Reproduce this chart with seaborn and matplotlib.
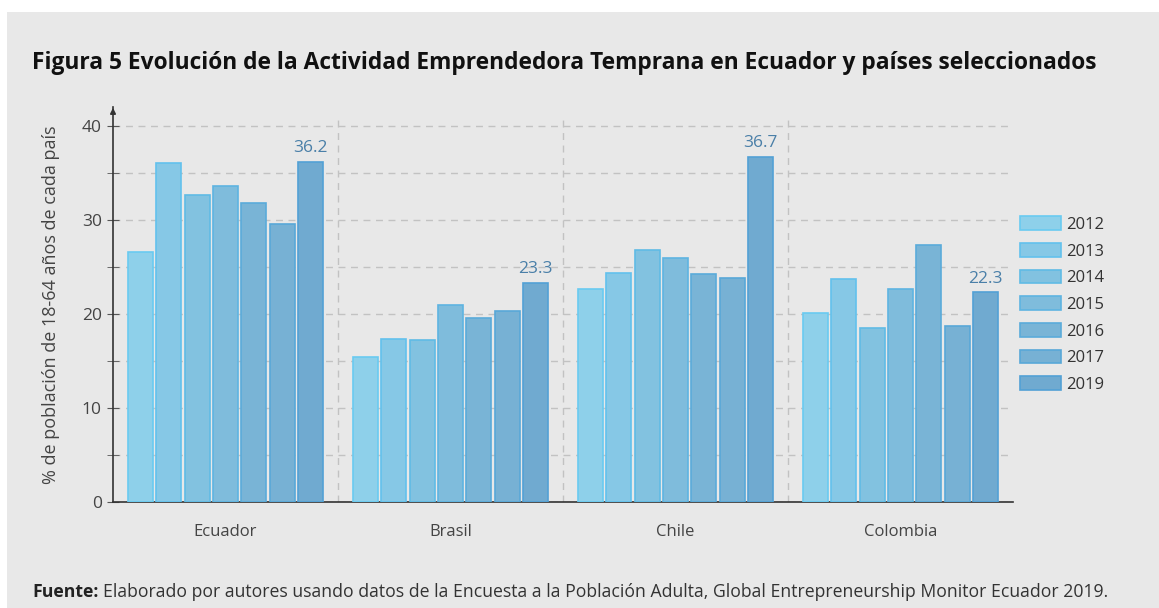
import pandas as pd
import numpy as np
import matplotlib.pyplot as plt
import matplotlib.colors as mcolors
from matplotlib.patches import Rectangle
import colorsys
import seaborn as sns

sns.set_style("white")
plt.rcParams['font.family'] = ['Open Sans', 'DejaVu Sans']

paises = ['Ecuador', 'Brasil', 'Chile', 'Colombia']
anios = ['2012', '2013', '2014', '2015', '2016', '2017', '2019']
ecuador = [26.6, 36.0, 32.6, 33.6, 31.8, 29.6, 36.2]
brasil = [15.4, 17.3, 17.2, 21.0, 19.6, 20.3, 23.3]
chile = [22.6, 24.3, 26.8, 25.9, 24.2, 23.8, 36.7]
colombia = [20.1, 23.7, 18.5, 22.7, 27.3, 18.7, 22.3]
colores = ['#8ED0EA', '#86C8E6', '#82C2E0', '#7FBCDC', '#79B4D6', '#77B1D4', '#70AAD0']

filas = []
for pais, vals in zip(paises, [ecuador, brasil, chile, colombia]):
    for anio, v in zip(anios, vals):
        filas.append({'pais': pais, 'anio': anio, 'valor': v})
df = pd.DataFrame(filas)

fondo = '#E8E8E8'
texto = '#444444'


def borde(c):
    h, l, s = colorsys.rgb_to_hls(*mcolors.to_rgb(c))
    return colorsys.hls_to_rgb(h, l * 0.92, min(1, s * 1.2))


fig = plt.figure(figsize=(11.59, 6.08), dpi=100, facecolor='white')
fig.patches.append(Rectangle((7 / 1159, 0), 1, (608 - 12) / 608, transform=fig.transFigure,
                             facecolor=fondo, edgecolor='none', zorder=-10))

ax = fig.add_axes([113 / 1159, (608 - 502) / 608, 900 / 1159, (502 - 107) / 608])
ax.set_facecolor('none')

sns.barplot(data=df, x='pais', y='valor', hue='anio', hue_order=anios, order=paises,
            palette=colores, saturation=1, width=0.88, gap=0.12, ax=ax, linewidth=1.2, zorder=3)

for patch in ax.patches:
    patch.set_edgecolor(borde(patch.get_facecolor()))

ax.bar_label(ax.containers[-1], fmt='%.1f', padding=4, color='#4A7FA8', fontsize=12.5)

ax.set_xlim(-0.5, 3.5)
ax.set_ylim(0, 42)
ax.set_yticks([0, 10, 20, 30, 40])
ax.set_yticks([5, 15, 25, 35], minor=True)
ax.yaxis.grid(True, which='both', color='#C2C2C2', linestyle=(0, (5, 4)), linewidth=1, zorder=0)
for xv in [0.5, 1.5, 2.5]:
    ax.plot([xv, xv], [0, 41.2], color='#C2C2C2', linestyle=(0, (5, 4)), linewidth=1, zorder=0)

for s in ['top', 'right']:
    ax.spines[s].set_visible(False)
ax.spines['left'].set_color('#333333')
ax.spines['bottom'].set_color('#333333')
ax.spines['left'].set_linewidth(1.2)
ax.spines['bottom'].set_linewidth(1.2)
ax.annotate('', xy=(0, 1.005), xytext=(0, 0.98), xycoords='axes fraction',
            arrowprops=dict(arrowstyle='-|>', color='#333333', lw=1.2, mutation_scale=8))

ax.tick_params(axis='y', which='both', direction='inout', length=8, color='#555555',
               labelsize=12.5, labelcolor=texto, left=True, pad=4)
ax.tick_params(axis='x', length=0, labelsize=12, labelcolor=texto, pad=16)
ax.set_xlabel('')
ax.set_ylabel('% de población de 18-64 años de cada país', fontsize=13, color=texto, labelpad=16)

ax.legend(loc='center left', bbox_to_anchor=(1.0, 0.5), frameon=False, fontsize=12,
          handlelength=2.5, handleheight=0.9, labelspacing=0.6, handletextpad=0.3,
          labelcolor='#333333', borderaxespad=0, borderpad=0.4)
leg = ax.get_legend()
leg.set_bbox_to_anchor((1.0, 0.5))
for h in leg.legend_handles:
    h.set_edgecolor(borde(h.get_facecolor()))

fig.text(32 / 1159, 1 - 63 / 608, 'Figura 5 Evolución de la Actividad Emprendedora Temprana en Ecuador y países seleccionados',
         fontsize=16.4, fontweight='bold', color='#111111', va='center')

fuente = fig.text(32 / 1159, 1 - 592 / 608, 'Fuente:', fontsize=12.7, fontweight='bold',
                  va='center', color='#222222')
fig.canvas.draw()
bb = fuente.get_window_extent()
fig.text((bb.x1 + 5) / 1159, 1 - 592 / 608,
         'Elaborado por autores usando datos de la Encuesta a la Población Adulta, Global Entrepreneurship Monitor Ecuador 2019.',
         fontsize=12.7, va='center', color='#333333')

fig.savefig('out.png', dpi=100, facecolor='white')
